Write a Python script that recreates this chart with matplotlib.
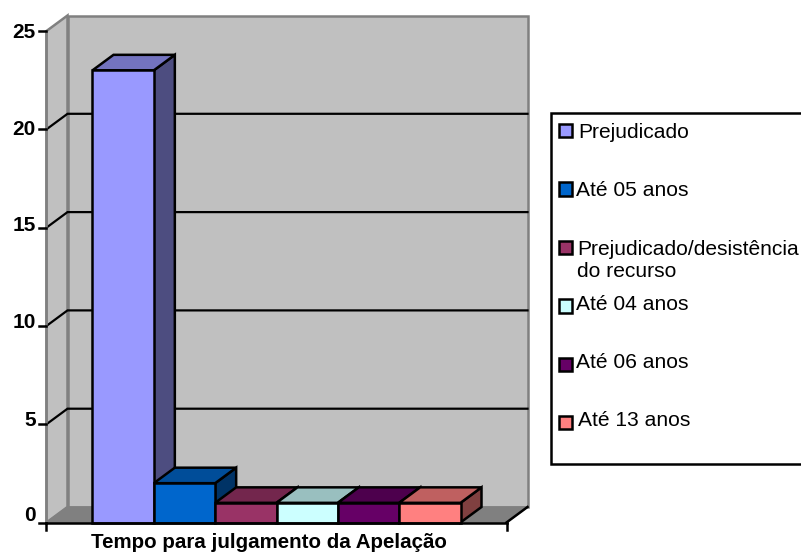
import matplotlib
matplotlib.use('Agg')
import matplotlib.pyplot as plt
from matplotlib.patches import Polygon, Rectangle

plt.rcParams['font.family'] = ['Liberation Sans', 'DejaVu Sans']

# data
series = ['Prejudicado', 'Até 05 anos', 'Prejudicado/desistência\ndo recurso',
          'Até 04 anos', 'Até 06 anos', 'Até 13 anos']
values = [23, 2, 1, 1, 1, 1]
bar_colors = ['#9999FF', '#0066CC', '#993366', '#CCFFFF', '#660066', '#FF8080']
y_ticks = [0, 5, 10, 15, 20, 25]
x_label = 'Tempo para julgamento da Apelação'

W, H = 801, 552
fig = plt.figure(figsize=(W / 100, H / 100), dpi=100)

# front plane of the 3d box, in pixels
left, right, bottom, top = 46.5, 506.5, 522.5, 31
ax = fig.add_axes([left / W, 1 - bottom / H, (right - left) / W, (bottom - top) / H])
ax.set_xlim(-1.25, 6.25)
ax.set_ylim(0, 25)
ax.axis('off')

# depth of the box and the bars, converted to data units
xa, xb = ax.get_xlim()
ya, yb = ax.get_ylim()
DX = 21 * (xb - xa) / (right - left)
DY = 15.5 * (yb - ya) / (bottom - top)
PX = (yb - ya) / (bottom - top)
LW = 1.8


def shade(col, f):
    rgb = matplotlib.colors.to_rgb(col)
    return tuple(c * f for c in rgb)


def face(pts, fc, ec='black', lw=LW, z=2):
    ax.add_patch(Polygon(pts, closed=True, fc=fc, ec=ec, lw=lw, zorder=z,
                         clip_on=False, joinstyle='miter'))


# walls and floor
face([(xa, ya), (xa + DX, ya + DY), (xa + DX, yb + DY), (xa, yb)], '#C0C0C0', '#808080', LW, 1)
face([(xa + DX, ya + DY), (xb + DX, ya + DY), (xb + DX, yb + DY), (xa + DX, yb + DY)],
     '#C0C0C0', '#808080', LW, 1)
face([(xa, ya), (xb, ya), (xb + DX, ya + DY), (xa + DX, ya + DY)], '#808080', '#808080', 1, 1)

# grid lines on the wall
for t in y_ticks[1:-1]:
    ax.plot([xa, xa + DX, xb + DX], [t, t + DY, t + DY], color='black', lw=1.6, zorder=1.5,
            clip_on=False, solid_joinstyle='miter')

# bars, drawn left to right so each one overlaps the side of the last
for i in range(len(values)):
    x0, x1, v = i - 0.5, i + 0.5, values[i]
    z = 3 + i
    face([(x1, 0), (x1 + DX, DY), (x1 + DX, v + DY), (x1, v)], shade(bar_colors[i], 0.5), z=z)
    face([(x0, v), (x1, v), (x1 + DX, v + DY), (x0 + DX, v + DY)], shade(bar_colors[i], 0.75), z=z)
    face([(x0, 0), (x1, 0), (x1, v), (x0, v)], bar_colors[i], z=z)

# axes lines and ticks
ax.plot([xa, xa], [0, 25], color='#808080', lw=LW, zorder=2, clip_on=False)
ax.plot([xa, xb], [0, 0], color='black', lw=LW, zorder=20, clip_on=False)
ax.plot([xb, xb + DX], [0, DY], color='black', lw=LW, zorder=2, clip_on=False)
tick_len = 7 * (xb - xa) / (right - left)
label_shift = [7, 4, 3, 2, 0, -1]
for t, s in zip(y_ticks, label_shift):
    ax.plot([xa - tick_len, xa], [t, t], color='black', lw=LW, zorder=20, clip_on=False)
    ax.text(xa - 1.55 * tick_len, t + s * PX, str(t), ha='right', va='center', fontsize=15,
            fontweight='bold', zorder=20)
for xt in (xa, xb):
    ax.plot([xt, xt], [0, -7 * PX], color='black', lw=LW, zorder=20, clip_on=False)

fig.text(268.5 / W, 1 - 542 / H, x_label, ha='center', va='center', fontsize=14.75,
         fontweight='bold')

# legend box, with pixel coordinates
leg = fig.add_axes([0, 0, 1, 1])
leg.set_xlim(0, W)
leg.set_ylim(H, 0)
leg.axis('off')
leg.patch.set_alpha(0)
leg.add_patch(Rectangle((550.5, 113), 270, 350.5, fc='white', ec='black', lw=LW))

swatch_y = [123.5, 182, 240.5, 299, 357.5, 415.5]
text_x = [579, 577, 578, 577, 577, 579]
text_y = [132, 190, 260.5, 305, 362, 420]
for lab, col, sy, tx, ty in zip(series, bar_colors, swatch_y, text_x, text_y):
    leg.add_patch(Rectangle((558.5, sy), 13.5, 13.5, fc=col, ec='black', lw=LW))
    leg.text(tx - 1, ty, lab, ha='left', va='center', fontsize=15.1, linespacing=1.17)

plt.savefig('out.png', dpi=100)
